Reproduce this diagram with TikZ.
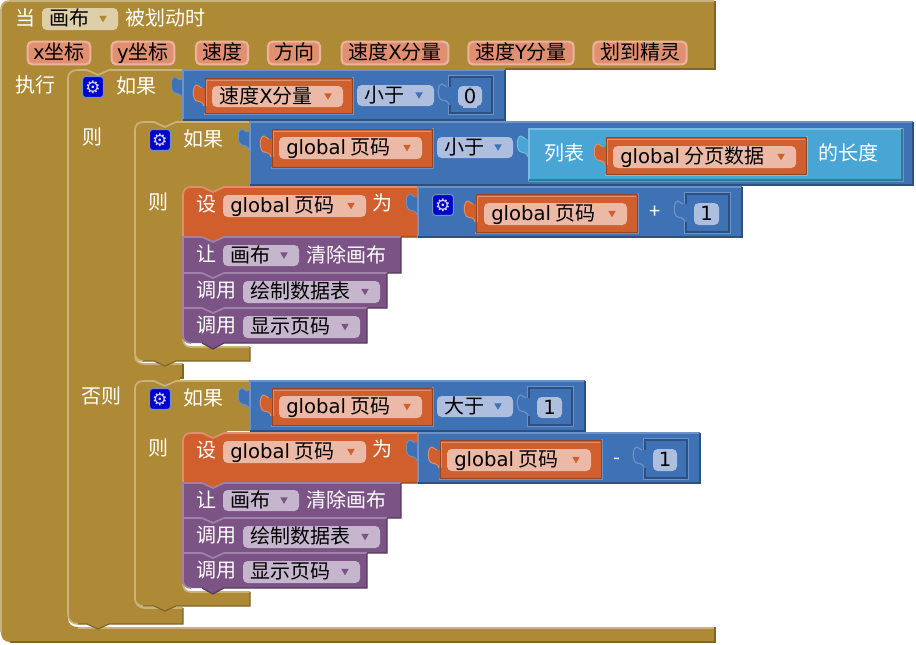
\documentclass[tikz,border=0pt]{standalone}
\usepackage{fontspec}
\setmainfont{Noto Sans CJK SC}
\newfontfamily\latn[Scale=0.98]{DejaVu Sans}
\newfontfamily\symb{DejaVu Sans}
\usetikzlibrary{shapes.geometric}

\definecolor{goldfill}{HTML}{AF8A36}
\definecolor{goldlight}{HTML}{C9B27C}
\definecolor{golddark}{HTML}{7F6526}
\definecolor{bluefill}{HTML}{3F71B5}
\definecolor{bluelight}{HTML}{6C92C8}
\definecolor{bluedark}{HTML}{2C5080}
\definecolor{orangefill}{HTML}{D05F2D}
\definecolor{orangelight}{HTML}{E08F6C}
\definecolor{orangedark}{HTML}{96441F}
\definecolor{purplefill}{HTML}{7B5385}
\definecolor{purplelight}{HTML}{9F82A8}
\definecolor{purpledark}{HTML}{563A5D}
\definecolor{cyanfill}{HTML}{49A6D4}
\definecolor{cyanlight}{HTML}{78BEE0}
\definecolor{cyandark}{HTML}{34789A}
\definecolor{goldfield}{HTML}{DFCFA9}
\definecolor{orangefield}{HTML}{EBB9A5}
\definecolor{bluefield}{HTML}{ADBEDF}
\definecolor{purplefield}{HTML}{C5B5CD}
\definecolor{pillfill}{HTML}{E08F70}
\definecolor{pillring}{HTML}{EDB29C}

\tikzset{
    bevel/.style={line width=1.3pt},
    blocklabel/.style={inner sep=0pt, anchor=west, yshift=-.7pt, text height=12pt, text depth=3pt, text=white, font=\fontsize{15}{18}\selectfont},
    fieldlabel/.style={blocklabel, text=black},
    ddmark/.style={regular polygon, regular polygon sides=3, shape border rotate=180, inner sep=0pt, minimum size=6.5pt},
    parampill/.style={rounded corners=3.5pt, draw=pillring, line width=1.6pt, fill=pillfill, inner sep=0pt, minimum height=17pt, text height=12pt, text depth=3pt, font=\fontsize{15}{18}\selectfont},
    gearicon/.style={rounded corners=2pt, draw=bluelight, line width=.8pt, fill=blue!80!black, inner sep=0pt, minimum size=15.5pt, text=white!85!blue, font=\symb\fontsize{13}{13}\selectfont},
}

\newcommand{\tabpath}{(1,10) -- (-3,10) .. controls (-5,10) and (-6,7) .. (-8,7) .. controls (-13,7) and (-13,22) .. (-8,23) .. controls (-4,24) and (-2,24) .. (-1,28) -- (1,28) -- cycle}
\newcommand{\tabedge}{(-3,10) .. controls (-5,10) and (-6,7) .. (-8,7) .. controls (-13,7) and (-13,22) .. (-8,23) .. controls (-4,24) and (-2,24) .. (-1,28)}

\newcommand{\hostblock}[5]{
    \begin{scope}[shift={(#2,#3)}]
        \fill[#1fill] \tabpath;
        \draw[#1light, line width=.7pt] \tabedge;
    \end{scope}
    \fill[#1fill] (#2,#3) rectangle (#4,#5);
    \draw[#1light, bevel] (#2,#5) -- (#2,#3) -- (#4,#3);
    \draw[#1dark, line width=.9pt] (#4,#3) -- (#4,#5) -- (#2,#5);
}

\newcommand{\valblock}[6]{
    \draw[#2light, bevel] (#3-1,#6+1) -- (#5+1,#6+1) -- (#5+1,#4-1);
    \begin{scope}[shift={(#3,#4)}]
        \fill[#1fill] \tabpath;
        \draw[#1light, line width=.7pt] \tabedge;
    \end{scope}
    \fill[#1fill] (#3,#4) rectangle (#5,#6);
    \draw[#1dark, line width=.5pt] (#3,#6) -- (#3,#4) -- (#5,#4);
    \draw[#1light, line width=.7pt] (#3+1.5,#4+28) -- (#3+1.5,#4+2) -- (#5-1,#4+2);
    \draw[#1dark, line width=.5pt] (#5,#4) -- (#5,#6) -- (#3,#6);
}

\newcommand{\ddfield}[7]{
    \fill[#2field, rounded corners=3.5pt] (#3,#4) rectangle (#5,#6);
    \node[fieldlabel] (#1) at (#3+7,#4/2+#6/2) {#7};
    \node[ddmark, fill=#2fill] (#1mark) at (#5-15,#4/2+#6/2-1) {};
}

\newcommand{\numsocket}[6]{
    \draw[#1light, bevel] (#2-1,#3+10) -- (#2-1,#3-1) -- (#4+1,#3-1) -- (#4+1,#5+1) -- (#2-1,#5+1) -- (#2-1,#3+28);
    \draw[#1dark, line width=.8pt] (#2,#3+10) -- (#2,#3) -- (#4,#3) -- (#4,#5) -- (#2,#5) -- (#2,#3+28);
    \begin{scope}[shift={(#2,#3)}]
        \draw[#1light, line width=.9pt] \tabedge;
    \end{scope}
    \fill[#1field, rounded corners=3.5pt] (#2+8,#3+9) rectangle (#4-10,#5-7);
    \node[fieldlabel, anchor=center] (#6) at (#2/2+#4/2-1,#3/2+#5/2+1) {\latn 1};
}

\newcommand{\ifshape}[6]{
    \begin{scope}[shift={(#1,#2)}]
        \fill[goldfill] (0,8) .. controls (0,3) and (3,0) .. (8,0) -- (19,0) -- (30,5) -- (41,0) -- (#3,0) -- (#3,#4) -- (92,#4) -- (92,#4+8) -- (48,#4+8) -- (48,#5-8) .. controls (48,#5-3) and (51,#5) .. (56,#5) -- (#3,#5) -- (#3,#6) -- (41,#6) -- (30,#6+5) -- (19,#6) -- (8,#6) .. controls (3,#6) and (0,#6-3) .. (0,#6-8) -- cycle;
        \draw[goldlight, bevel] (8,#6) .. controls (3,#6) and (0,#6-3) .. (0,#6-8) -- (0,8) .. controls (0,3) and (3,0) .. (8,0) -- (19,0) -- (30,5) -- (41,0) -- (#3,0);
        \draw[goldlight, bevel] (48,#5-8) .. controls (48,#5-3) and (51,#5) .. (56,#5) -- (#3,#5);
        \draw[golddark, line width=.9pt] (#3,#5) -- (#3,#6) -- (41,#6) -- (30,#6+5) -- (19,#6) -- (8,#6);
    \end{scope}
}

\newcommand{\stmtblock}[7]{
    \begin{scope}[shift={(#2,#3)}]
        \fill[#1fill] #6 -- (19,0) -- (30,5) -- (41,0) -- (#4,0) -- (#4,#5) -- (41,#5) -- (30,#5+6) -- (19,#5) -- #7 -- cycle;
        \draw[#1light, bevel] #7 -- #6 -- (19,0) -- (30,5) -- (41,0) -- (#4,0);
        \draw[#1dark, line width=.9pt] (#4,0) -- (#4,#5) -- (41,#5) -- (30,#5+6) -- (19,#5);
    \end{scope}
}

\begin{document}
\begin{tikzpicture}[x=.75pt,y=-.75pt]
        \useasboundingbox (0,0) rectangle (916,644);

        \fill[goldfill] (1,10) .. controls (1,4) and (4,1) .. (10,1) -- (715,1) -- (715,69) -- (112,69) -- (112,80) -- (68,80) -- (68,618) .. controls (68,624) and (72,627) .. (78,627) -- (715,627) -- (715,642) -- (10,642) .. controls (4,642) and (1,638) .. (1,632) -- cycle;
        \draw[goldlight, bevel] (1,632) -- (1,10) .. controls (1,4) and (4,1) .. (10,1) -- (714,1);
        \draw[goldlight, bevel] (78,628) -- (714,628);
        \draw[golddark, bevel] (715,1) -- (715,69) -- (505,69);
        \draw[golddark, bevel] (715,627) -- (715,642) -- (10,642);

        \node[blocklabel] (whenlabel) at (15,19) {当};
        \ddfield{canvaspick}{gold}{42}{8}{118}{30}{画布}
        \node[blocklabel] (eventlabel) at (125,19) {被划动时};
        \node[parampill, minimum width=47pt] (paramx) at (59,53) {{\latn x}坐标};
        \node[parampill, minimum width=47pt] (paramy) at (143,53) {{\latn y}坐标};
        \node[parampill, minimum width=39pt] (paramspeed) at (222,53) {速度};
        \node[parampill, minimum width=39pt] (paramdir) at (294,53) {方向};
        \node[parampill, minimum width=80pt] (paramvx) at (395,53) {速度{\latn X}分量};
        \node[parampill, minimum width=79pt] (paramvy) at (521,53) {速度{\latn Y}分量};
        \node[parampill, minimum width=70pt] (paramsprite) at (640,53) {划到精灵};
        \node[blocklabel] (dolabel) at (15,86) {执行};

        \fill[goldfill] (68,78) .. controls (68,73) and (72,70) .. (78,70) -- (87,70) -- (98,75) -- (109,70) -- (183,70) -- (183,121) -- (180,121) -- (180,132) -- (135,132) -- (135,356) .. controls (135,361) and (139,364) .. (145,364) -- (183,364) -- (183,378) -- (180,378) -- (180,391) -- (135,391) -- (135,598) .. controls (135,604) and (139,608) .. (145,608) -- (183,608) -- (183,624) -- (109,624) -- (98,629) -- (87,624) -- (78,624) .. controls (72,624) and (68,620) .. (68,614) -- cycle;
        \draw[goldlight, bevel] (78,624) .. controls (72,624) and (68,620) .. (68,614) -- (68,78) .. controls (68,73) and (72,70) .. (78,70) -- (87,70) -- (98,75) -- (109,70) -- (183,70);
        \draw[goldlight, bevel] (135,356) .. controls (135,361) and (139,364) .. (145,364) -- (183,364);
        \draw[goldlight, bevel] (135,598) .. controls (135,604) and (139,608) .. (145,608) -- (183,608);
        \draw[golddark, line width=.9pt] (183,364) -- (183,378) -- (180,378);
        \draw[golddark, line width=.9pt] (183,608) -- (183,624) -- (109,624) -- (98,629) -- (87,624) -- (78,624);
        \node[gearicon] (gearouter) at (93,87) {⚙};
        \node[blocklabel] (ifouter) at (116,87) {如果};
        \node[blocklabel] (thenouter) at (82,138) {则};
        \node[blocklabel] (elseouter) at (81,397) {否则};

        \hostblock{blue}{183}{70}{505}{120}
        \valblock{orange}{blue}{205}{78}{352}{113}
        \ddfield{speedxvar}{orange}{212}{86}{343}{107}{速度{\latn X}分量}
        \ddfield{lessouter}{blue}{357}{85}{434}{106}{小于}
        \numsocket{blue}{450}{77}{492}{113}{zeronum}
        \node[fieldlabel, anchor=center, fill=bluefield, minimum width=10pt] (zerotext) at (zeronum) {\latn 0};

        \ifshape{135}{122}{115}{65}{225}{239}
        \node[gearicon] (gearupper) at (160,140) {⚙};
        \node[blocklabel] (ifupper) at (183,140) {如果};
        \node[blocklabel] (thenupper) at (148,203) {则};

        \hostblock{blue}{250}{122}{913}{185}
        \valblock{orange}{blue}{272}{129}{432}{167}
        \ddfield{pagevara}{orange}{279}{137}{422}{159}{{\latn global} 页码}
        \ddfield{lessupper}{blue}{437}{137}{513}{158}{小于}
        \draw[bluelight, bevel] (528,181) -- (903,181) -- (903,128);
        \hostblock{cyan}{529}{129}{902}{180}
        \node[blocklabel] (listlabel) at (544,154) {列表};
        \valblock{orange}{cyan}{606}{137}{806}{174}
        \ddfield{pagedata}{orange}{613}{146}{796}{168}{{\latn global} 分页数据}
        \node[blocklabel] (lengthlabel) at (818,154) {的长度};

        \stmtblock{orange}{183}{187}{235}{50}{(0,8) .. controls (0,3) and (3,0) .. (8,0)}{(0,50)}
        \node[blocklabel] (setupper) at (196,205) {设};
        \ddfield{pagevarb}{orange}{223}{195}{366}{217}{{\latn global} 页码}
        \node[blocklabel] (toupper) at (372,204) {为};
        \hostblock{blue}{418}{187}{742}{237}
        \node[gearicon] (gearplus) at (443,205) {⚙};
        \valblock{orange}{blue}{476}{194}{637}{232}
        \ddfield{pagevarc}{orange}{484}{203}{627}{225}{{\latn global} 页码}
        \node[blocklabel, anchor=center] (plussign) at (655,212) {+};
        \numsocket{blue}{686}{194}{729}{232}{onenuma}

        \stmtblock{purple}{183}{237}{218}{36}{(0,0)}{(0,36)}
        \node[blocklabel] (letupper) at (196,255) {让};
        \ddfield{canvasa}{purple}{223}{245}{299}{266}{画布}
        \node[blocklabel] (clearupper) at (306,256) {清除画布};
        \stmtblock{purple}{183}{273}{204}{35}{(0,0)}{(0,35)}
        \node[blocklabel] (callupper) at (196,291) {调用};
        \ddfield{drawtablea}{purple}{243}{281}{380}{303}{绘制数据表}
        \stmtblock{purple}{183}{308}{184}{35}{(0,0)}{(8,35) .. controls (3,35) and (0,32) .. (0,27)}
        \node[blocklabel] (showupper) at (196,326) {调用};
        \ddfield{showpagea}{purple}{243}{316}{360}{338}{显示页码}

        \ifshape{135}{381}{115}{50}{211}{225}
        \node[gearicon] (gearlower) at (160,399) {⚙};
        \node[blocklabel] (iflower) at (183,399) {如果};
        \node[blocklabel] (thenlower) at (148,449) {则};

        \hostblock{blue}{250}{381}{585}{431}
        \valblock{orange}{blue}{272}{388}{432}{425}
        \ddfield{pagevard}{orange}{279}{396}{422}{418}{{\latn global} 页码}
        \ddfield{greaterlower}{blue}{437}{396}{513}{417}{大于}
        \numsocket{blue}{529}{388}{572}{425}{onenumb}

        \stmtblock{orange}{183}{433}{235}{50}{(0,8) .. controls (0,3) and (3,0) .. (8,0)}{(0,50)}
        \node[blocklabel] (setlower) at (196,451) {设};
        \ddfield{pagevare}{orange}{223}{441}{366}{463}{{\latn global} 页码}
        \node[blocklabel] (tolower) at (372,450) {为};
        \hostblock{blue}{418}{433}{700}{483}
        \valblock{orange}{blue}{440}{440}{601}{478}
        \ddfield{pagevarf}{orange}{447}{449}{591}{471}{{\latn global} 页码}
        \node[blocklabel, anchor=center] (minussign) at (617,458) {-};
        \numsocket{blue}{645}{440}{687}{478}{onenumc}

        \stmtblock{purple}{183}{483}{218}{35}{(0,0)}{(0,35)}
        \node[blocklabel] (letlower) at (196,501) {让};
        \ddfield{canvasb}{purple}{223}{490}{299}{511}{画布}
        \node[blocklabel] (clearlower) at (306,501) {清除画布};
        \stmtblock{purple}{183}{518}{204}{35}{(0,0)}{(0,35)}
        \node[blocklabel] (calllower) at (196,536) {调用};
        \ddfield{drawtableb}{purple}{243}{526}{380}{548}{绘制数据表}
        \stmtblock{purple}{183}{553}{184}{35}{(0,0)}{(8,35) .. controls (3,35) and (0,32) .. (0,27)}
        \node[blocklabel] (showlower) at (196,571) {调用};
        \ddfield{showpageb}{purple}{243}{561}{360}{583}{显示页码}
    \end{tikzpicture}
\end{document}
